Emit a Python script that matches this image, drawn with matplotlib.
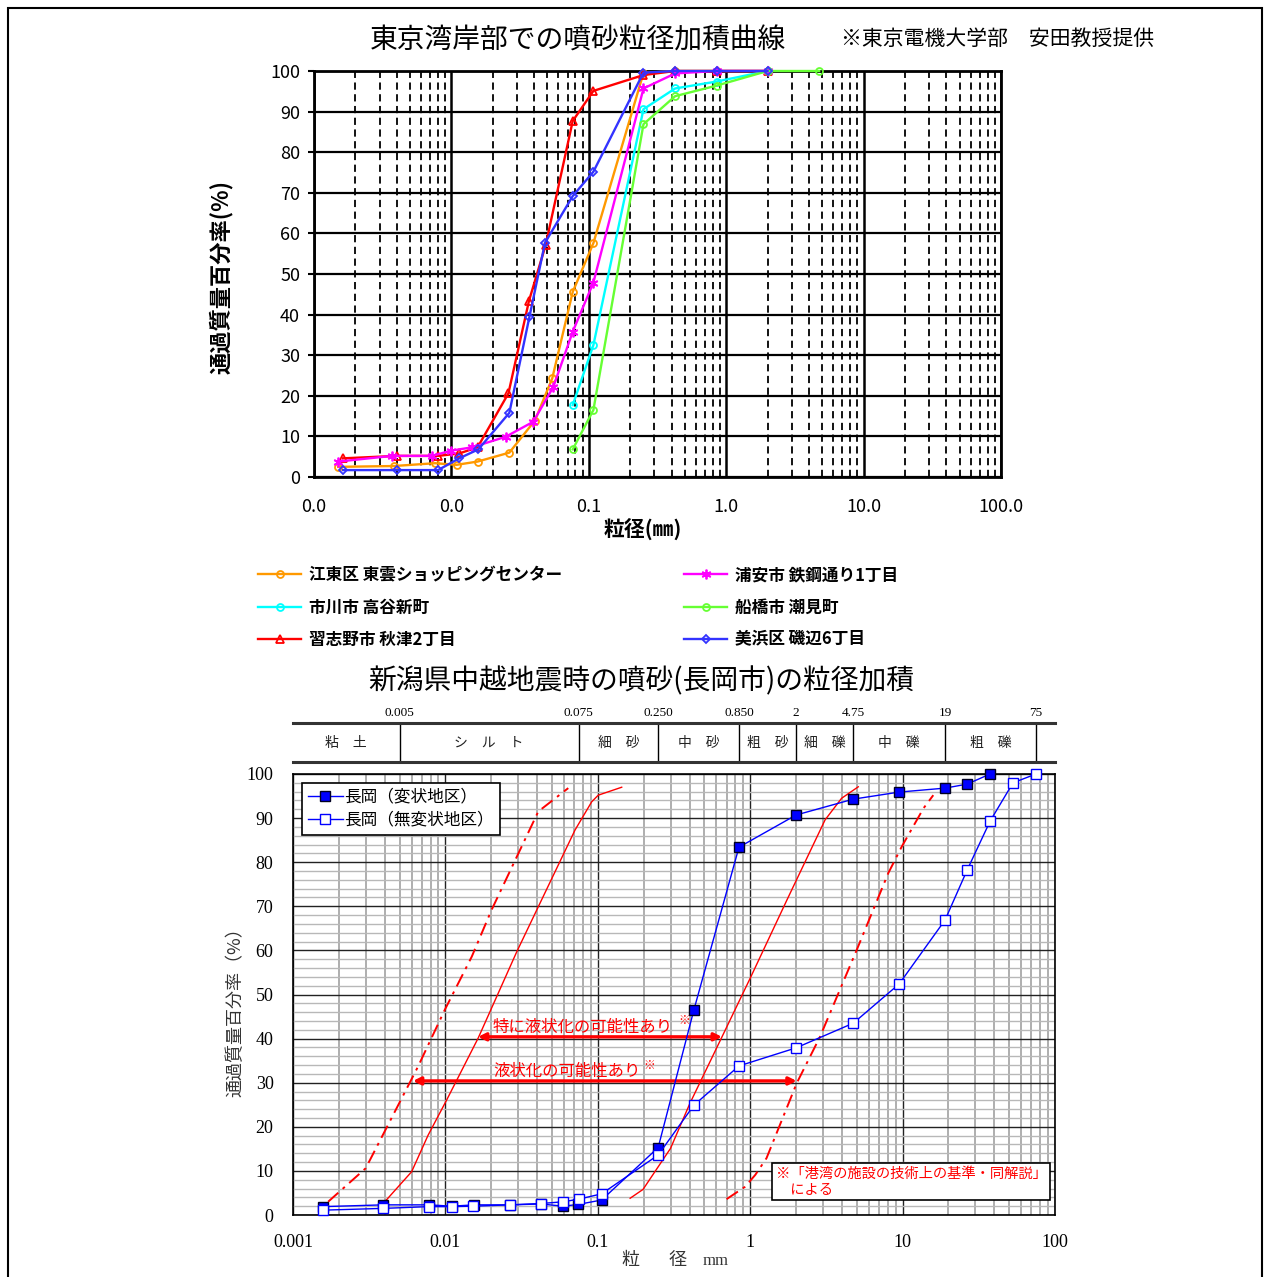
import matplotlib
matplotlib.use('Agg')
import matplotlib.pyplot as plt
from matplotlib.patches import Rectangle
from matplotlib.ticker import FixedLocator, LogLocator, NullFormatter, NullLocator, MultipleLocator

plt.rcParams['font.family'] = ['Noto Sans CJK JP', 'DejaVu Sans']

# ---------------- top chart data: grain size (mm) / passing (%)
koto_x = [0.0015, 0.0038, 0.0076, 0.0109, 0.0155, 0.0264, 0.0405, 0.0542, 0.0764, 0.108, 0.25, 0.425, 0.85, 2.0]
koto_y = [2.5, 2.7, 3.4, 3.0, 3.8, 6.0, 13.9, 24.3, 45.6, 57.6, 99.5, 100, 100, 100]
ichikawa_x = [0.0764, 0.108, 0.25, 0.425, 0.85, 2.0]
ichikawa_y = [17.7, 32.5, 90.6, 95.7, 97.4, 100]
narashino_x = [0.00163, 0.0040, 0.0080, 0.0114, 0.0155, 0.026, 0.0367, 0.0485, 0.0764, 0.108, 0.25, 0.425, 0.85, 2.0]
narashino_y = [4.6, 5.2, 5.2, 5.8, 7.3, 20.6, 43.4, 57.1, 87.7, 95.1, 99.0, 100, 100, 100]
urayasu_x = [0.0015, 0.0037, 0.0072, 0.0100, 0.0141, 0.0248, 0.0394, 0.0552, 0.0764, 0.108, 0.25, 0.425, 0.85, 2.0]
urayasu_y = [3.8, 5.2, 5.2, 6.5, 7.3, 9.9, 13.6, 22.2, 35.8, 47.9, 95.7, 99.4, 100, 100]
funabashi_x = [0.0764, 0.108, 0.25, 0.425, 0.85, 2.0, 4.75]
funabashi_y = [6.8, 16.5, 86.9, 93.8, 96.4, 100, 100]
mihama_x = [0.00163, 0.0040, 0.0080, 0.0114, 0.0157, 0.0264, 0.0370, 0.048, 0.0764, 0.108, 0.25, 0.425, 0.85, 2.0]
mihama_y = [1.7, 1.7, 1.7, 4.6, 6.8, 15.8, 39.5, 57.7, 69.2, 75.2, 99.6, 100, 100, 100]

top_labels = ['江東区 東雲ショッピングセンター', '市川市 高谷新町', '習志野市 秋津2丁目',
              '浦安市 鉄鋼通り1丁目', '船橋市 潮見町', '美浜区 磯辺6丁目']
top_xticks = [0.001, 0.01, 0.1, 1, 10, 100]
top_xticklabels = ['0.0', '0.0', '0.1', '1.0', '10.0', '100.0']

# ---------------- bottom chart data (長岡市)
henjo_x = [0.00158, 0.00392, 0.00783, 0.0110, 0.0155, 0.0266, 0.0422, 0.0594, 0.0745, 0.106, 0.249, 0.427, 0.844, 2.0, 4.75, 9.5, 19.0, 26.5, 37.5]
henjo_y = [1.9, 2.3, 2.3, 2.0, 2.3, 2.3, 2.5, 2.0, 2.4, 3.4, 15.3, 46.5, 83.4, 90.7, 94.3, 95.9, 96.8, 97.7, 100]
muhenjo_x = [0.00158, 0.00392, 0.0078, 0.0110, 0.0152, 0.0266, 0.0422, 0.0594, 0.0752, 0.106, 0.249, 0.427, 0.844, 2.0, 4.75, 9.5, 19.0, 26.5, 37.5, 53.0, 75.0]
muhenjo_y = [1.1, 1.5, 1.9, 1.9, 2.0, 2.3, 2.6, 3.0, 3.6, 4.8, 13.6, 24.9, 33.8, 37.9, 43.5, 52.4, 66.9, 78.2, 89.3, 98.0, 100]

# liquefaction range curves (港湾基準)
left_dd_x = [0.0017, 0.003, 0.0066, 0.0099, 0.0149, 0.0201, 0.0309, 0.0407, 0.064]
left_dd_y = [3.0, 10.6, 33.6, 46.5, 58.6, 69.2, 82.8, 91.5, 96.8]
left_solid_x = [0.004, 0.006, 0.0077, 0.0102, 0.0164, 0.0294, 0.0407, 0.0709, 0.0912, 0.1007, 0.1435]
left_solid_y = [3.0, 9.8, 18.1, 26.1, 40.1, 59.7, 69.9, 87.3, 93.7, 95.2, 97.0]
right_solid_x = [0.163, 0.198, 0.30, 0.402, 0.653, 1.0, 1.74, 3.1, 3.98, 5.12]
right_solid_y = [3.8, 5.8, 15.1, 25.3, 40.4, 53.7, 71.4, 89.6, 94.5, 97.1]
right_dd_x = [0.70, 0.925, 1.08, 1.28, 2.02, 2.87, 5.0, 8.05, 9.86, 13.7, 15.9]
right_dd_y = [3.6, 6.4, 9.1, 12.9, 29.9, 40.4, 60.1, 77.5, 83.5, 92.2, 95.2]

toku_range = [0.01636, 0.653]   # 特に液状化の可能性あり, at 40.4 %
kano_range = [0.00612, 2.02]    # 液状化の可能性あり, at 30.4 %

soil_bounds = [0.001, 0.005, 0.075, 0.25, 0.85, 2, 4.75, 19, 75, 100]
soil_bound_labels = ['0.005', '0.075', '0.250', '0.850', '2', '4.75', '19', '75']
soil_names = ['粘　土', 'シ　ル　ト', '細　砂', '中　砂', '粗　砂', '細　礫', '中　礫', '粗　礫', '']
bot_xticks = [0.001, 0.01, 0.1, 1, 10, 100]
bot_xticklabels = ['0.001', '0.01', '0.1', '1', '10', '100']

W, H = 1268, 1277
fig = plt.figure(figsize=(W / 100, H / 100), dpi=100)


def fbox(x0, y0, x1, y1):
    # pixel box -> figure fraction rect
    return [x0 / W, 1 - y1 / H, (x1 - x0) / W, (y1 - y0) / H]


# outer frame
fig.patches.append(Rectangle((8 / W, -0.01), 1254 / W, 1 - 8 / H + 0.01, transform=fig.transFigure,
                             fill=False, ec='black', lw=1.5))

# ================= top chart
ax1 = fig.add_axes(fbox(314, 71, 1001, 477))
ax1.set_xscale('log')
ax1.set_xlim(0.001, 100)
ax1.set_ylim(0, 100)
ax1.xaxis.set_major_locator(FixedLocator(top_xticks))
ax1.xaxis.set_minor_locator(LogLocator(base=10, subs=range(2, 10), numticks=20))
ax1.xaxis.set_minor_formatter(NullFormatter())
ax1.set_xticklabels(top_xticklabels, fontsize=13)
ax1.yaxis.set_major_locator(MultipleLocator(10))
ax1.tick_params(axis='y', labelsize=13, length=4, width=1.5, pad=6)
ax1.tick_params(axis='x', which='both', length=0, pad=15)
ax1.grid(which='major', axis='x', color='black', lw=1.8)
ax1.grid(which='minor', axis='x', color='black', lw=1.3, ls=(0, (4, 2.5)))
ax1.grid(which='major', axis='y', color='black', lw=1.6)
ax1.set_axisbelow(True)
for s in ax1.spines.values():
    s.set_linewidth(2)

top_series = [
    (koto_x, koto_y, '#FF9900', 'o', 5),
    (ichikawa_x, ichikawa_y, '#00FFFF', 'o', 5),
    (narashino_x, narashino_y, '#FF0000', '^', 5.5),
    (urayasu_x, urayasu_y, '#FF00FF', (6, 2, 0), 7),
    (funabashi_x, funabashi_y, '#66FF33', 'o', 5),
    (mihama_x, mihama_y, '#3333FF', 'D', 4.5),
]
handles = []
for (xs, ys, c, m, ms), lab in zip(top_series, top_labels):
    ln, = ax1.plot(xs, ys, color=c, lw=1.7, marker=m, ms=ms, mfc='none', mec=c, mew=1.3,
                   label=lab, clip_on=False, zorder=3)
    handles.append(ln)

leg_kw = dict(loc='upper left', frameon=False, prop={'weight': 'bold', 'size': 12},
              handlelength=2.6, handletextpad=0.45, labelspacing=0.86, borderpad=0, borderaxespad=0)
fig.legend(handles=handles[:3], bbox_to_anchor=(258 / W, 1 - 566 / H), **leg_kw)
fig.legend(handles=handles[3:], bbox_to_anchor=(684 / W, 1 - 566 / H), **leg_kw)

fig.text(578 / W, 1 - 41 / H, '東京湾岸部での噴砂粒径加積曲線', ha='center', va='center', fontsize=20)
fig.text(998 / W, 1 - 39 / H, '※東京電機大学部　安田教授提供', ha='center', va='center', fontsize=15)
fig.text(221 / W, 1 - 277 / H, '通過質量百分率(%)', rotation=90, ha='center', va='center',
         fontsize=16, weight='bold')
fig.text(643 / W, 1 - 529 / H, '粒径(㎜)', ha='center', va='center', fontsize=15, weight='bold')

# ================= bottom chart: header (soil classes)
axh = fig.add_axes(fbox(293, 723, 1055, 762))
axh.set_xscale('log')
axh.set_xlim(0.001, 100)
axh.set_ylim(0, 1)
axh.xaxis.set_major_locator(NullLocator())
axh.xaxis.set_minor_locator(NullLocator())
axh.yaxis.set_major_locator(NullLocator())
axh.spines['left'].set_visible(False)
axh.spines['right'].set_visible(False)
for s in ('top', 'bottom'):
    axh.spines[s].set_linewidth(2.2)
    axh.spines[s].set_color('#333333')
for b, lab in zip(soil_bounds[1:-1], soil_bound_labels):
    axh.axvline(b, color='black', lw=1)
    axh.text(b, 1.1, lab, ha='center', va='bottom', fontsize=9.5, family='Liberation Serif')
for lo, hi, name in zip(soil_bounds[:-1], soil_bounds[1:], soil_names):
    axh.text((lo * hi) ** 0.5, 0.5, name, ha='center', va='center', fontsize=10, color='#222222')

fig.text(641 / W, 1 - 681 / H, '新潟県中越地震時の噴砂(長岡市)の粒径加積', ha='center', va='center', fontsize=20)

# ================= bottom chart
ax2 = fig.add_axes(fbox(293, 774, 1055, 1215))
ax2.set_xscale('log')
ax2.set_xlim(0.001, 100)
ax2.set_ylim(0, 100)
ax2.xaxis.set_major_locator(FixedLocator(bot_xticks))
ax2.xaxis.set_minor_locator(LogLocator(base=10, subs=range(2, 10), numticks=20))
ax2.xaxis.set_minor_formatter(NullFormatter())
ax2.set_xticklabels(bot_xticklabels, fontsize=13, family='Liberation Serif')
ax2.yaxis.set_major_locator(MultipleLocator(10))
ax2.yaxis.set_minor_locator(MultipleLocator(2))
for t in ax2.get_yticklabels():
    t.set_family('Liberation Serif')
ax2.tick_params(axis='y', which='both', labelsize=13, length=0, pad=14)
ax2.tick_params(axis='x', which='both', length=0, pad=14)
ax2.grid(which='minor', axis='x', color='#a8a8a8', lw=1.3)
ax2.grid(which='minor', axis='y', color='#b8b8b8', lw=1)
ax2.grid(which='major', axis='both', color='#222222', lw=1)
ax2.set_axisbelow(True)
for s in ax2.spines.values():
    s.set_linewidth(1.2)

dd = (0, (7, 3, 1.5, 3))
ax2.plot(left_dd_x, left_dd_y, color='red', lw=1.4, ls=dd)
ax2.plot(right_dd_x, right_dd_y, color='red', lw=1.4, ls=dd)
ax2.plot(left_solid_x, left_solid_y, color='red', lw=1)
ax2.plot(right_solid_x, right_solid_y, color='red', lw=1)

ax2.annotate('', xy=(toku_range[0], 40.4), xytext=(toku_range[1], 40.4),
             arrowprops=dict(arrowstyle='<|-|>', color='red', lw=2.4, mutation_scale=11, shrinkA=0, shrinkB=0))
ax2.annotate('', xy=(kano_range[0], 30.4), xytext=(kano_range[1], 30.4),
             arrowprops=dict(arrowstyle='<|-|>', color='red', lw=2.4, mutation_scale=11, shrinkA=0, shrinkB=0))
ax2.text(0.0205, 42.6, '特に液状化の可能性あり', color='red', fontsize=11.8, ha='left', va='center')
ax2.text(0.37, 44.2, '※', color='red', fontsize=8.5, ha='center', va='center')
ax2.text(0.0205, 32.6, '液状化の可能性あり', color='red', fontsize=11.8, ha='left', va='center')
ax2.text(0.218, 34.0, '※', color='red', fontsize=8.5, ha='center', va='center')
ax2.text(1.475, 10.9, '※「港湾の施設の技術上の基準・同解説」\n　による', color='red', fontsize=10.3,
         ha='left', va='top', linespacing=1.15,
         bbox=dict(boxstyle='square,pad=0.25', fc='white', ec='black', lw=1.2))

ax2.plot(henjo_x, henjo_y, color='#0000FF', lw=1, marker='s', ms=7, mfc='#0000FF', mec='#000022',
         mew=1, label='長岡（変状地区）', clip_on=False, zorder=4)
ax2.plot(muhenjo_x, muhenjo_y, color='#0000FF', lw=1, marker='s', ms=7, mfc='white', mec='#0000FF',
         mew=1, label='長岡（無変状地区）', clip_on=False, zorder=4)
leg2 = ax2.legend(loc='upper left', bbox_to_anchor=(9 / 762, 1 - 9 / 441), borderaxespad=0,
                  fancybox=False, edgecolor='black', framealpha=1, fontsize=12,
                  handlelength=2.1, handletextpad=0.1, labelspacing=0.35, borderpad=0.35)
leg2.get_frame().set_linewidth(1.2)

fig.text(236 / W, 1 - 1008 / H, '通過質量百分率（%）', rotation=90, ha='center', va='center',
         fontsize=13, color='#333333')
fig.text(630 / W, 1 - 1260 / H, '粒', ha='center', va='center', fontsize=13, color='#333333')
fig.text(678 / W, 1 - 1260 / H, '径', ha='center', va='center', fontsize=13, color='#333333')
fig.text(716 / W, 1 - 1261 / H, 'mm', ha='center', va='center', fontsize=12, color='#333333',
         family='Liberation Serif')

fig.savefig('out.png', dpi=100)
